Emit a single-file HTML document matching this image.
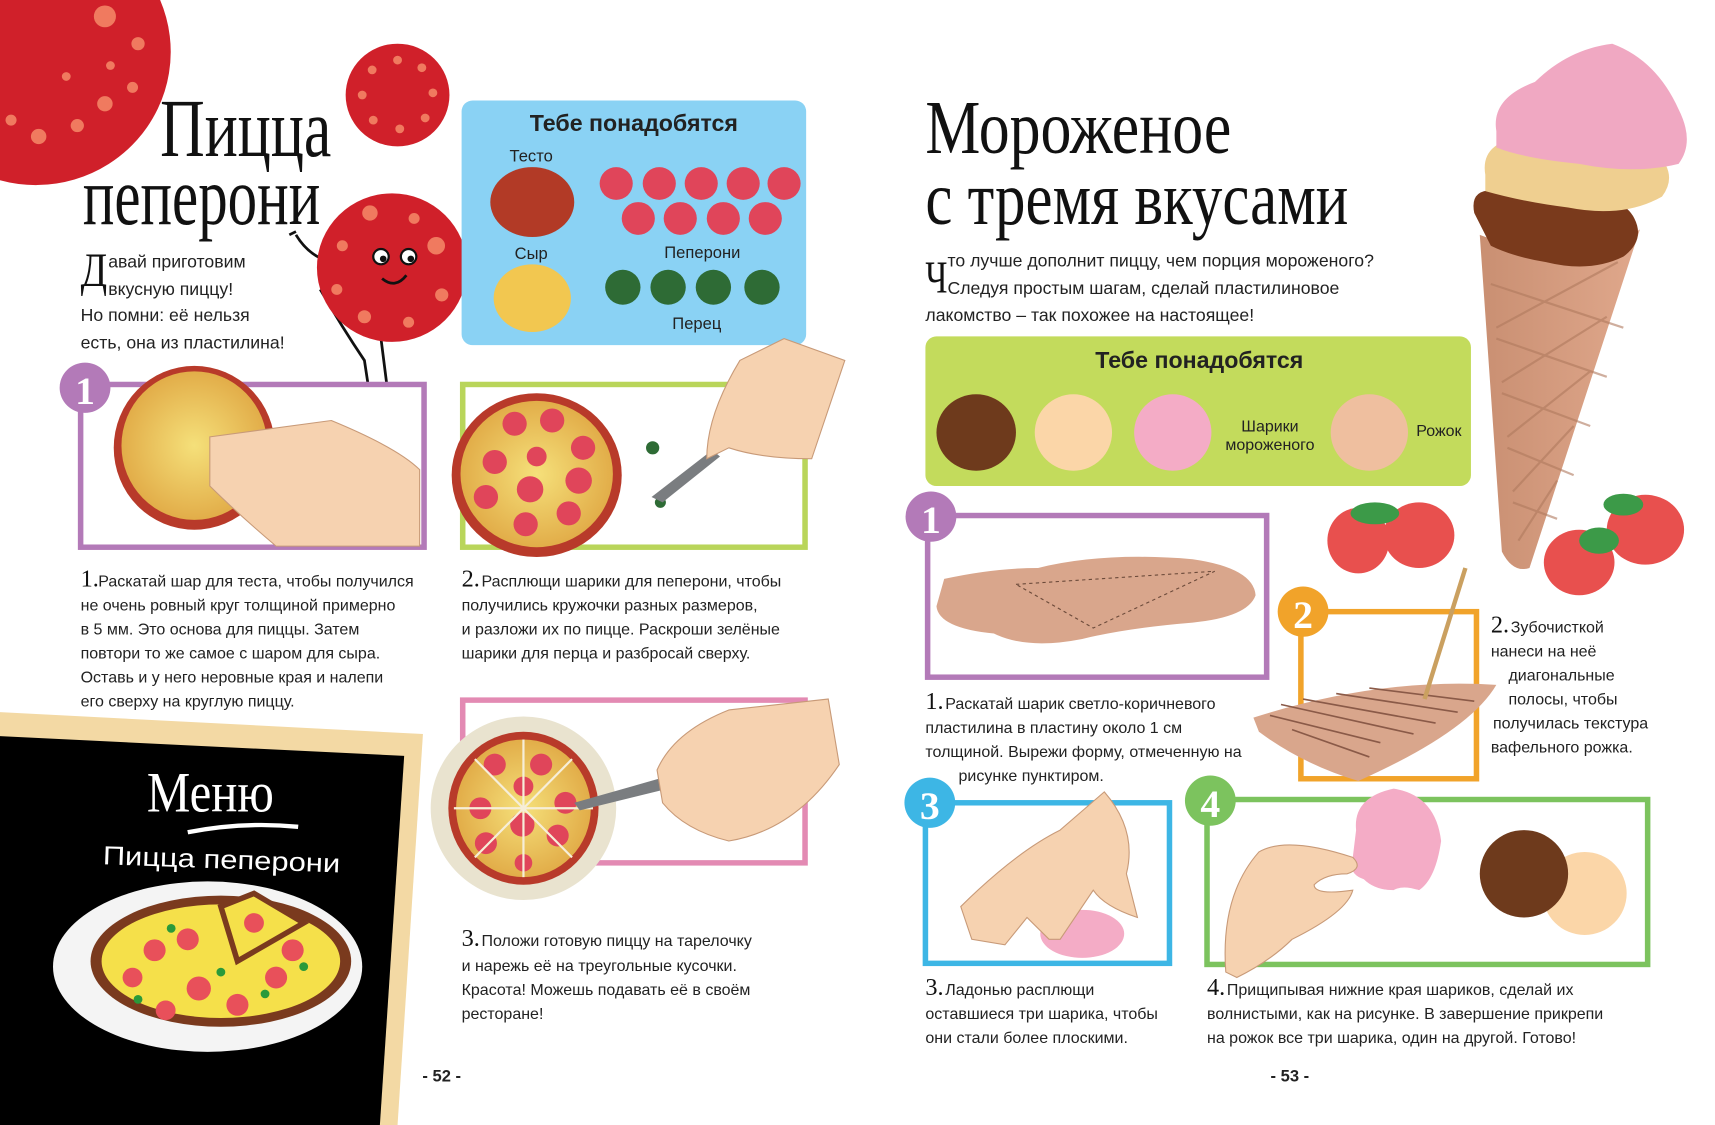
<!DOCTYPE html>
<html><head><meta charset="utf-8"><style>
html,body{margin:0;padding:0;background:#fff;width:1715px;height:1125px;overflow:hidden}
svg{display:block}
text{font-family:"Liberation Sans","Noto Sans CJK SC",sans-serif;fill:#222}
.ti{font-family:"Liberation Serif","Noto Serif CJK SC",serif;fill:#111}
</style></head><body>
<svg width="1715" height="1125" viewBox="0 0 1553 1030" preserveAspectRatio="none" xmlns="http://www.w3.org/2000/svg" overflow="hidden">
<defs>
<radialGradient id="dough" cx="50%" cy="50%" r="55%"><stop offset="0" stop-color="#f5e07a"/><stop offset="1" stop-color="#e0a844"/></radialGradient>
<linearGradient id="cone" x1="0" x2="1"><stop offset="0" stop-color="#c98f72"/><stop offset="1" stop-color="#e0a88c"/></linearGradient>
</defs>

<path d="M0 0 H145 A122 122 0 0 1 0 165 Z" fill="#d0202a"/>
<g fill="#f07a5f"><circle cx="95" cy="15" r="10"/><circle cx="125" cy="40" r="6"/><circle cx="120" cy="80" r="5"/><circle cx="95" cy="95" r="7"/><circle cx="70" cy="115" r="6"/><circle cx="35" cy="125" r="7"/><circle cx="10" cy="110" r="5"/><circle cx="60" cy="70" r="4"/><circle cx="100" cy="60" r="4"/></g>
<circle cx="360" cy="87" r="47" fill="#d0202a"/>
<g fill="#f07a5f"><circle cx="360" cy="55" r="4"/><circle cx="382" cy="62" r="4"/><circle cx="392" cy="85" r="4"/><circle cx="385" cy="108" r="4"/><circle cx="362" cy="118" r="4"/><circle cx="338" cy="110" r="4"/><circle cx="328" cy="87" r="4"/><circle cx="337" cy="64" r="4"/></g>

<text class="ti" x="145" y="143" font-size="76" textLength="155" lengthAdjust="spacingAndGlyphs">Пицца</text>
<text class="ti" x="75" y="205" font-size="76" textLength="215" lengthAdjust="spacingAndGlyphs">пеперони</text>

<path d="M300 240 Q280 235 268 215 M262 215 l6 -3 M290 265 Q310 300 330 330 L333 350 M345 310 L350 350 M420 265 Q430 285 440 298" stroke="#111" stroke-width="2.5" fill="none"/>
<circle cx="355" cy="245" r="68" fill="#d0202a"/>
<g fill="#f07a5f"><circle cx="335" cy="195" r="7"/><circle cx="375" cy="200" r="5"/><circle cx="395" cy="225" r="8"/><circle cx="310" cy="225" r="5"/><circle cx="305" cy="265" r="5"/><circle cx="330" cy="290" r="6"/><circle cx="370" cy="295" r="5"/><circle cx="400" cy="270" r="6"/></g>
<circle cx="345" cy="235" r="7" fill="#fff" stroke="#111" stroke-width="2"/><circle cx="347" cy="237" r="3" fill="#111"/>
<circle cx="370" cy="235" r="7" fill="#fff" stroke="#111" stroke-width="2"/><circle cx="372" cy="237" r="3" fill="#111"/>
<path d="M346 255 Q358 265 368 252" stroke="#111" stroke-width="2.5" fill="none"/>

<text class="ti" x="73" y="262" font-size="44" textLength="24" lengthAdjust="spacingAndGlyphs">Д</text>
<text x="98" y="245" font-size="16">авай приготовим</text>
<text x="98" y="270" font-size="16">вкусную пиццу!</text>
<text x="73" y="294" font-size="16">Но помни: её нельзя</text>
<text x="73" y="319" font-size="16">есть, она из пластилина!</text>

<rect x="418" y="92" width="312" height="224" rx="10" fill="#8ad2f4"/>
<text x="574" y="120" font-size="21" font-weight="bold" text-anchor="middle" fill="#111">Тебе понадобятся</text>
<text x="481" y="148" font-size="15" text-anchor="middle">Тесто</text>
<ellipse cx="482" cy="185" rx="38" ry="32" fill="#b23a26"/>
<text x="481" y="237" font-size="15" text-anchor="middle">Сыр</text>
<ellipse cx="482" cy="273" rx="35" ry="31" fill="#f2c750"/>
<g fill="#e0455a"><circle cx="558" cy="168" r="15"/><circle cx="597" cy="168" r="15"/><circle cx="635" cy="168" r="15"/><circle cx="673" cy="168" r="15"/><circle cx="710" cy="168" r="15"/><circle cx="578" cy="200" r="15"/><circle cx="616" cy="200" r="15"/><circle cx="655" cy="200" r="15"/><circle cx="693" cy="200" r="15"/></g>
<text x="636" y="236" font-size="15" text-anchor="middle">Пеперони</text>
<g fill="#2e6b35"><circle cx="564" cy="263" r="16"/><circle cx="605" cy="263" r="16"/><circle cx="646" cy="263" r="16"/><circle cx="690" cy="263" r="16"/></g>
<text x="631" y="301" font-size="15" text-anchor="middle">Перец</text>

<rect x="73" y="352" width="311" height="149" fill="none" stroke="#b37ab8" stroke-width="5"/>
<circle cx="77" cy="355" r="23" fill="#b37ab8"/><text class="ti" x="77" y="370" font-size="36" font-weight="bold" text-anchor="middle" style="fill:#fff">1</text>
<ellipse cx="176" cy="410" rx="73" ry="75" fill="#b83a2a"/><ellipse cx="176" cy="408" rx="66" ry="68" fill="url(#dough)"/>
<path d="M190 400 L300 385 Q360 410 380 430 L380 500 L250 500 Q215 470 190 445 Z" fill="#f6d2b0" stroke="#c89a78" stroke-width="1"/>

<rect x="419" y="352" width="310" height="149" fill="none" stroke="#b9d55a" stroke-width="5"/>
<ellipse cx="486" cy="435" rx="77" ry="75" fill="#b83a2a"/><ellipse cx="486" cy="434" rx="69" ry="67" fill="url(#dough)"/>
<g fill="#e0455a"><circle cx="466" cy="388" r="11"/><circle cx="500" cy="385" r="11"/><circle cx="528" cy="410" r="11"/><circle cx="448" cy="423" r="11"/><circle cx="486" cy="418" r="9"/><circle cx="524" cy="440" r="12"/><circle cx="440" cy="455" r="11"/><circle cx="480" cy="448" r="12"/><circle cx="515" cy="470" r="11"/><circle cx="476" cy="480" r="11"/></g>
<circle cx="591" cy="410" r="6" fill="#2e6b35"/><circle cx="598" cy="460" r="5" fill="#2e6b35"/>
<path d="M590 455 L645 412 L652 418 L600 460 Z" fill="#7a7d80"/>
<path d="M640 420 Q640 380 670 330 L710 310 L765 330 L735 420 Q690 420 660 410 Z" fill="#f6d2b0" stroke="#c89a78"/>

<rect x="419" y="641" width="310" height="149" fill="none" stroke="#e38ab3" stroke-width="5"/>
<circle cx="474" cy="740" r="84" fill="#e9e3cf"/>
<ellipse cx="474" cy="740" rx="68" ry="70" fill="#b83a2a"/><ellipse cx="474" cy="740" rx="61" ry="63" fill="url(#dough)"/>
<g fill="#e0455a"><circle cx="448" cy="700" r="10"/><circle cx="490" cy="700" r="10"/><circle cx="474" cy="720" r="9"/><circle cx="435" cy="740" r="10"/><circle cx="473" cy="755" r="11"/><circle cx="512" cy="735" r="10"/><circle cx="440" cy="772" r="10"/><circle cx="505" cy="765" r="10"/><circle cx="474" cy="790" r="8"/></g>
<path d="M474 677 V803 M411 740 H537 M430 695 L518 785 M518 695 L430 785" stroke="#f6eed8" stroke-width="2"/>
<path d="M520 735 L600 712 L605 722 L525 742 Z" fill="#7a7d80"/>
<path d="M595 705 Q610 670 660 650 L750 640 L760 700 Q720 760 660 770 Q620 760 600 735 Z" fill="#f6d2b0" stroke="#c89a78"/>

<g font-size="14.5">
<text class="ti" x="73" y="537" font-size="22">1.</text><text x="89" y="537">Раскатай шар для теста, чтобы получился</text>
<text x="73" y="559">не очень ровный круг толщиной примерно</text>
<text x="73" y="581">в 5 мм. Это основа для пиццы. Затем</text>
<text x="73" y="603">повтори то же самое с шаром для сыра.</text>
<text x="73" y="625">Оставь и у него неровные края и налепи</text>
<text x="73" y="647">его сверху на круглую пиццу.</text>
<text class="ti" x="418" y="537" font-size="22">2.</text><text x="436" y="537">Расплющи шарики для пеперони, чтобы</text>
<text x="418" y="559">получились кружочки разных размеров,</text>
<text x="418" y="581">и разложи их по пицце. Раскроши зелёные</text>
<text x="418" y="603">шарики для перца и разбросай сверху.</text>
<text class="ti" x="418" y="866" font-size="22">3.</text><text x="436" y="866">Положи готовую пиццу на тарелочку</text>
<text x="418" y="889">и нарежь её на треугольные кусочки.</text>
<text x="418" y="911">Красота! Можешь подавать её в своём</text>
<text x="418" y="933">ресторане!</text>
</g>

<polygon points="0,652 383,672 360,1030 0,1030" fill="#f3d9a4"/>
<polygon points="0,674 366,692 344,1030 0,1030" fill="#000"/>
<text class="ti" x="133" y="743" font-size="52" textLength="115" lengthAdjust="spacingAndGlyphs" style="fill:#fff">Меню</text>
<path d="M170 762 Q220 752 270 757" stroke="#fff" stroke-width="4" fill="none"/>
<text x="93" y="795" font-size="24" style="fill:#fff" textLength="215" lengthAdjust="spacingAndGlyphs" transform="rotate(2 200 790)">Пицца пеперони</text>
<ellipse cx="188" cy="885" rx="140" ry="78" fill="#f4f4f4"/>
<ellipse cx="200" cy="880" rx="118" ry="60" fill="#7a3a1e"/>
<ellipse cx="200" cy="880" rx="108" ry="52" fill="#f5e04a"/>
<path d="M200 830 L230 818 L275 845 L215 880 Z" fill="#f5e04a" stroke="#7a3a1e" stroke-width="5"/>
<g fill="#e8505a"><circle cx="140" cy="870" r="10"/><circle cx="170" cy="860" r="10"/><circle cx="120" cy="895" r="9"/><circle cx="180" cy="905" r="11"/><circle cx="215" cy="920" r="10"/><circle cx="250" cy="895" r="10"/><circle cx="265" cy="870" r="10"/><circle cx="230" cy="845" r="9"/><circle cx="150" cy="925" r="9"/></g>
<g fill="#2a9a3a"><circle cx="155" cy="850" r="4"/><circle cx="200" cy="890" r="4"/><circle cx="240" cy="910" r="4"/><circle cx="125" cy="915" r="4"/><circle cx="275" cy="885" r="4"/></g>

<text x="400" y="990" font-size="15" font-weight="bold" text-anchor="middle">- 52 -</text>

<text class="ti" x="838" y="140" font-size="70" textLength="277" lengthAdjust="spacingAndGlyphs">Мороженое</text>
<text class="ti" x="838" y="205" font-size="70" textLength="383" lengthAdjust="spacingAndGlyphs">с тремя вкусами</text>
<text class="ti" x="838" y="268" font-size="42" textLength="20" lengthAdjust="spacingAndGlyphs">Ч</text>
<text x="858" y="244" font-size="16">то лучше дополнит пиццу, чем порция мороженого?</text>
<text x="858" y="269" font-size="16">Следуя простым шагам, сделай пластилиновое</text>
<text x="838" y="294" font-size="16">лакомство – так похожее на настоящее!</text>

<rect x="838" y="308" width="494" height="137" rx="10" fill="#c3db5c"/>
<text x="1086" y="337" font-size="21" font-weight="bold" text-anchor="middle" fill="#111">Тебе понадобятся</text>
<ellipse cx="884" cy="396" rx="36" ry="35" fill="#6e3a1c"/>
<ellipse cx="972" cy="396" rx="35" ry="35" fill="#fbd6a8"/>
<ellipse cx="1062" cy="396" rx="35" ry="35" fill="#f4acc6"/>
<text x="1150" y="395" font-size="14.5" text-anchor="middle">Шарики</text>
<text x="1150" y="412" font-size="14.5" text-anchor="middle">мороженого</text>
<ellipse cx="1240" cy="396" rx="35" ry="35" fill="#efbf9f"/>
<text x="1303" y="399" font-size="14.5" text-anchor="middle">Рожок</text>

<path d="M1340 215 Q1430 250 1485 210 L1385 520 Q1370 525 1360 505 Z" fill="url(#cone)"/>
<g stroke="#b07a5e" stroke-width="2" opacity=".6">
<path d="M1350 260 L1470 300 M1355 310 L1455 345 M1360 360 L1440 390 M1365 410 L1425 435 M1370 460 L1410 475 M1465 240 L1355 300 M1455 290 L1360 350 M1440 340 L1365 400 M1425 390 L1370 450 M1410 440 L1375 495"/></g>
<path d="M1335 195 Q1330 170 1360 175 Q1390 165 1430 175 Q1470 180 1480 200 Q1490 220 1470 235 Q1440 250 1400 240 Q1370 235 1350 225 Z" fill="#7a3a1c"/>
<path d="M1345 160 Q1340 130 1380 125 Q1440 120 1500 140 Q1520 160 1505 180 Q1470 200 1420 190 Q1380 185 1345 175 Z" fill="#efcf90"/>
<path d="M1355 120 Q1350 90 1390 75 Q1420 45 1460 40 Q1500 55 1520 100 Q1535 130 1520 150 Q1480 160 1430 150 Q1380 145 1355 135 Z" fill="#f0a8c2"/>

<g fill="#e8504e"><ellipse cx="1230" cy="495" rx="28" ry="30"/><ellipse cx="1285" cy="490" rx="32" ry="30"/><ellipse cx="1430" cy="515" rx="32" ry="30"/><ellipse cx="1490" cy="485" rx="35" ry="32"/></g>
<g fill="#3c9a48"><ellipse cx="1245" cy="470" rx="22" ry="10"/><ellipse cx="1448" cy="495" rx="18" ry="12"/><ellipse cx="1470" cy="462" rx="18" ry="10"/></g>

<rect x="840" y="472" width="307" height="148" fill="none" stroke="#b37ab8" stroke-width="5"/>
<circle cx="843" cy="473" r="23" fill="#b37ab8"/><text class="ti" x="843" y="488" font-size="36" font-weight="bold" text-anchor="middle" style="fill:#fff">1</text>
<path d="M855 530 Q900 520 940 520 Q1000 505 1080 512 Q1135 520 1137 545 Q1130 565 1080 570 Q1020 575 980 585 Q930 595 900 580 Q850 575 848 555 Z" fill="#d9a68c"/>
<path d="M920 535 L1100 523 L990 575 Z" fill="none" stroke="#6b4a3a" stroke-width="1" stroke-dasharray="3 3"/>

<rect x="1178" y="560" width="159" height="153" fill="none" stroke="#f1a32a" stroke-width="5"/>
<circle cx="1180" cy="560" r="23" fill="#f1a32a"/><text class="ti" x="1180" y="575" font-size="36" font-weight="bold" text-anchor="middle" style="fill:#fff">2</text>
<path d="M1135 657 Q1250 620 1355 627 Q1330 670 1230 715 Q1180 700 1140 670 Z" fill="#d9a68c"/>
<g stroke="#8a5a48" stroke-width="1.5"><path d="M1150 655 L1250 680 M1160 645 L1280 672 M1180 640 L1300 662 M1210 635 L1320 652 M1240 630 L1335 642 M1170 668 L1240 693"/></g>
<path d="M1290 640 L1327 520" stroke="#caa060" stroke-width="4"/>

<rect x="838" y="735" width="221" height="147" fill="none" stroke="#3db6e5" stroke-width="5"/>
<circle cx="842" cy="735" r="23" fill="#3db6e5"/><text class="ti" x="842" y="750" font-size="36" font-weight="bold" text-anchor="middle" style="fill:#fff">3</text>
<ellipse cx="980" cy="855" rx="38" ry="22" fill="#f4acc6"/>
<path d="M1000 725 Q1030 760 1020 800 L1030 840 Q1000 830 990 815 L960 860 L950 860 L930 840 L910 865 L880 860 L870 830 Q920 780 960 760 Z" fill="#f6d2b0" stroke="#c89a78"/>

<rect x="1093" y="732" width="399" height="151" fill="none" stroke="#7cc35e" stroke-width="5"/>
<circle cx="1096" cy="733" r="23" fill="#7cc35e"/><text class="ti" x="1096" y="748" font-size="36" font-weight="bold" text-anchor="middle" style="fill:#fff">4</text>
<path d="M1228 760 Q1225 730 1262 722 Q1300 728 1305 770 Q1300 805 1285 815 Q1270 810 1262 815 Q1245 815 1235 805 Q1220 800 1225 785 Z" fill="#f4acc6"/>
<circle cx="1435" cy="818" r="38" fill="#fbd6a8"/>
<circle cx="1380" cy="800" r="40" fill="#6e3a1c"/>
<path d="M1110 890 Q1105 820 1140 780 Q1165 765 1225 785 Q1235 795 1220 800 Q1200 800 1190 810 Q1190 820 1225 815 Q1220 835 1170 860 Q1150 880 1120 895 Z" fill="#f6d2b0" stroke="#c89a78"/>

<g font-size="14.5">
<text class="ti" x="838" y="649" font-size="22">1.</text><text x="856" y="649">Раскатай шарик светло-коричневого</text>
<text x="838" y="671">пластилина в пластину около 1 см</text>
<text x="838" y="693">толщиной. Вырежи форму, отмеченную на</text>
<text x="868" y="715">рисунке пунктиром.</text>
<text class="ti" x="1350" y="579" font-size="22">2.</text><text x="1368" y="579">Зубочисткой</text>
<text x="1350" y="601">нанеси на неё</text>
<text x="1366" y="623">диагональные</text>
<text x="1366" y="645">полосы, чтобы</text>
<text x="1352" y="667">получилась текстура</text>
<text x="1350" y="689">вафельного рожка.</text>
<text class="ti" x="838" y="911" font-size="22">3.</text><text x="856" y="911">Ладонью расплющи</text>
<text x="838" y="933">оставшиеся три шарика, чтобы</text>
<text x="838" y="955">они стали более плоскими.</text>
<text class="ti" x="1093" y="911" font-size="22">4.</text><text x="1111" y="911">Прищипывая нижние края шариков, сделай их</text>
<text x="1093" y="933">волнистыми, как на рисунке. В завершение прикрепи</text>
<text x="1093" y="955">на рожок все три шарика, один на другой. Готово!</text>
</g>
<text x="1168" y="990" font-size="15" font-weight="bold" text-anchor="middle">- 53 -</text>
</svg>
</body></html>
